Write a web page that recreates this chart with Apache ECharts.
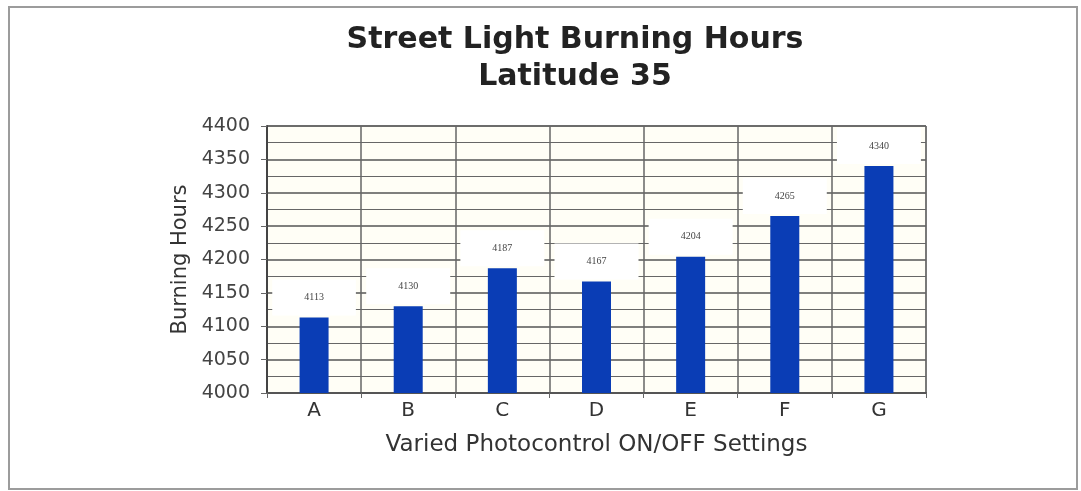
<!DOCTYPE html>
<html>
<head>
<meta charset="utf-8">
<script src="https://cdn.jsdelivr.net/npm/echarts@6/dist/echarts.min.js"></script>
<style>
    html, body { margin: 0; padding: 0; background: #fff; }
    #chart { width: 1081px; height: 491px; }
</style>
</head>
<body>
<div id="chart"></div>
<script>
// values
let settings = ['A', 'B', 'C', 'D', 'E', 'F', 'G'];
let hours = [4113, 4130, 4187, 4167, 4204, 4265, 4340];
let yTicks = { min: 4000, max: 4400, step: 50 };

let me = echarts.init(document.getElementById('chart'));

let option = {
    backgroundColor: '#fff',
    animation: false,
    title: {
        text: 'Street Light Burning Hours\nLatitude 35',
        left: 570,
        top: 17,
        textAlign: 'center',
        textStyle: {
            fontFamily: 'DejaVu Sans',
            fontWeight: 'bold',
            fontSize: 30,
            lineHeight: 37,
            color: '#222'
        }
    },
    graphic: [{
        type: 'rect',
        shape: { x: 9, y: 7, width: 1068, height: 482 },
        style: { fill: null, stroke: '#9c9c9c', lineWidth: 2 },
        silent: true,
        z: -1
    }],
    grid: {
        left: 267,
        top: 126,
        width: 659,
        height: 267,
        show: true,
        backgroundColor: '#fffef6',
        borderColor: '#666',
        borderWidth: 1
    },
    xAxis: {
        type: 'category',
        data: settings,
        name: 'Varied Photocontrol ON/OFF Settings',
        nameLocation: 'middle',
        nameGap: 41,
        nameTextStyle: { fontFamily: 'DejaVu Sans', fontSize: 23, color: '#333' },
        axisLine: { lineStyle: { color: '#555', width: 2 } },
        axisTick: { show: true, length: 5, lineStyle: { color: '#666' } },
        axisLabel: { fontFamily: 'DejaVu Sans', fontSize: 20, color: '#333', margin: 8 },
        splitLine: { show: true, lineStyle: { color: '#666', width: 1.5 } }
    },
    yAxis: {
        type: 'value',
        min: yTicks.min,
        max: yTicks.max,
        interval: yTicks.step,
        name: 'Burning Hours',
        nameLocation: 'middle',
        nameGap: 74,
        nameTextStyle: { fontFamily: 'DejaVu Sans', fontSize: 21, color: '#333' },
        axisLine: { show: true, lineStyle: { color: '#444', width: 2 } },
        axisTick: { show: true, length: 6, lineStyle: { color: '#666' } },
        axisLabel: {
            fontFamily: 'DejaVu Sans',
            fontSize: 19,
            color: '#444',
            margin: 17,
            formatter: v => String(v)
        },
        splitLine: { show: true, lineStyle: { color: '#555', width: 1.5 } },
        minorTick: { show: false, splitNumber: 2 },
        minorSplitLine: { show: true, lineStyle: { color: '#666', width: 1.2 } }
    },
    series: [{
        type: 'bar',
        data: hours,
        barWidth: 29,
        itemStyle: { color: '#0a3db5' },
        label: {
            show: true,
            position: 'top',
            distance: 2,
            fontFamily: 'Liberation Serif',
            fontSize: 10,
            color: '#444',
            backgroundColor: '#fff',
            padding: [13, 32, 13, 32]
        }
    }]
};

me.setOption(option);
</script>
</body>
</html>
